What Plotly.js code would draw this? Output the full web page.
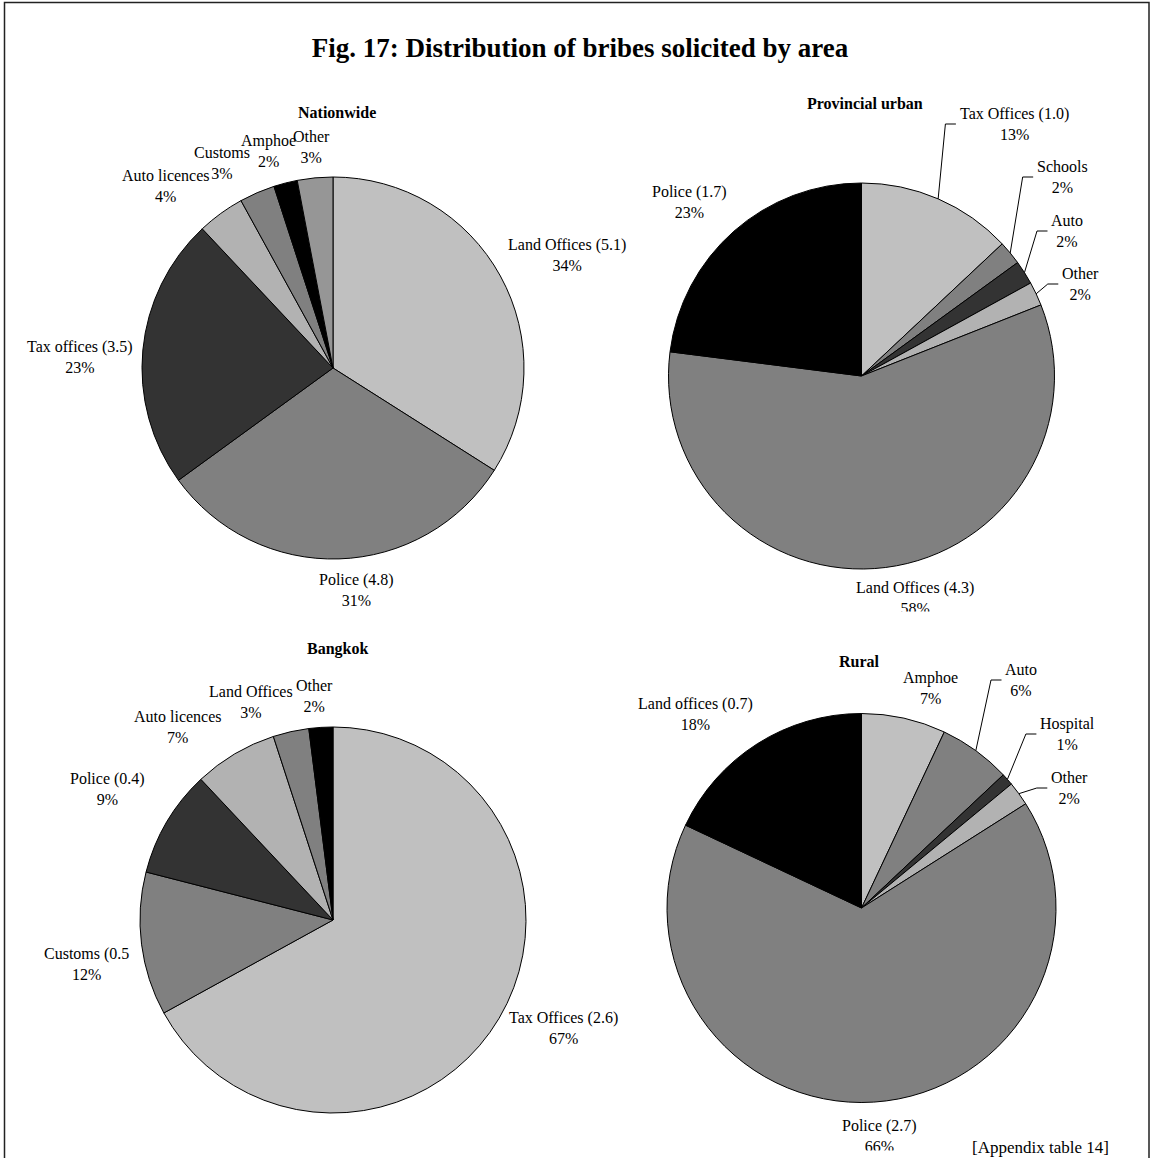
<!DOCTYPE html>
<html><head><meta charset="utf-8">
<script src="https://cdn.plot.ly/plotly-3.0.1.min.js"></script>
<style>html,body{margin:0;padding:0;background:#fff}#chart{width:1151px;height:1158px}</style>
</head><body><div id="chart"></div>
<script>
// ---------------- data ----------------
const chartTitle = 'Fig. 17: Distribution of bribes solicited by area';
const sourceNote = '[Appendix table 14]';
const panelTitles = ['Nationwide', 'Provincial urban', 'Bangkok', 'Rural'];

const nationwideLabels = ['Land Offices (5.1)', 'Police (4.8)', 'Tax offices (3.5)', 'Auto licences', 'Customs', 'Amphoe', 'Other'];
const nationwideValues = [34, 31, 23, 4, 3, 2, 3];

const provincialLabels = ['Tax Offices (1.0)', 'Schools', 'Auto', 'Other', 'Land Offices (4.3)', 'Police (1.7)'];
const provincialValues = [13, 2, 2, 2, 58, 23];

const bangkokLabels = ['Tax Offices (2.6)', 'Customs (0.5', 'Police (0.4)', 'Auto licences', 'Land Offices', 'Other'];
const bangkokValues = [67, 12, 9, 7, 3, 2];

const ruralLabels = ['Amphoe', 'Auto', 'Hospital', 'Other', 'Police (2.7)', 'Land offices (0.7)'];
const ruralValues = [7, 6, 1, 2, 66, 18];

// ---------------- layout / style ----------------
const W = 1151, H = 1158;
const FONT = '"Liberation Serif", "Times New Roman", serif';
const sliceColors = ['#c0c0c0', '#808080', '#333333', '#b2b2b2', '#808080', '#000000', '#969696'];

const panels = [
  { labels: nationwideLabels, values: nationwideValues, cx: 333, cy: 368, r: 191, title: [337, 112],
    labelPos: [[567, 255], [356, 590], [80, 357], [166, 186], [222, 163], [268, 151], [311, 147]],
    leader: [0, 0, 0, 0, 0, 0, 0] },
  { labels: provincialLabels, values: provincialValues, cx: 861.5, cy: 376, r: 193, title: [865, 104],
    labelPos: [[1014, 124], [1062, 177], [1067, 231], [1080, 284], [915, 598], [689, 202]],
    leader: [1, 1, 1, 1, 0, 0] },
  { labels: bangkokLabels, values: bangkokValues, cx: 333, cy: 920, r: 193, title: [337, 649],
    labelPos: [[563, 1028], [86, 964], [107, 789], [178, 727], [251, 702], [314, 696]],
    leader: [0, 0, 0, 0, 0, 0] },
  { labels: ruralLabels, values: ruralValues, cx: 861.5, cy: 908, r: 194.5, title: [860, 661],
    labelPos: [[930, 688], [1021, 680], [1067, 734], [1069, 788], [879, 1136], [695, 714]],
    leader: [0, 1, 1, 1, 0, 0] }
];

const px = x => x / W;
const py = y => 1 - y / H;

const ctx = document.createElement('canvas').getContext('2d');
ctx.font = '16px "Liberation Serif"';

const traces = [];
const annotations = [];
const shapes = [];

panels.forEach((p, k) => {
  const n = p.values.length;
  traces.push({
    type: 'pie',
    labels: p.labels,
    values: p.values,
    sort: false,
    direction: 'clockwise',
    rotation: 0,
    textinfo: 'none',
    hoverinfo: 'skip',
    showlegend: false,
    marker: { colors: sliceColors.slice(0, n), line: { color: '#000000', width: 1 } },
    domain: { x: [px(p.cx - p.r), px(p.cx + p.r)], y: [py(p.cy + p.r), py(p.cy - p.r)] }
  });

  annotations.push({
    xref: 'paper', yref: 'paper', x: px(p.title[0]), y: py(p.title[1]),
    xanchor: 'center', yanchor: 'middle', showarrow: false,
    text: '<b>' + panelTitles[k] + '</b>',
    font: { family: FONT, size: 16, color: '#000' }
  });

  const total = p.values.reduce((a, b) => a + b, 0);
  let cum = 0;
  p.values.forEach((v, i) => {
    const pct = Math.round(v / total * 100) + '%';
    const [lx, ly] = p.labelPos[i];
    annotations.push({
      xref: 'paper', yref: 'paper', x: px(lx), y: py(ly),
      xanchor: 'center', yanchor: 'middle', showarrow: false, align: 'center',
      text: p.labels[i] + '<br>' + pct,
      font: { family: FONT, size: 16, color: '#000' }
    });
    const mid = (cum + v / 2) / total * 2 * Math.PI;
    cum += v;
    if (p.leader[i]) {
      const sx = p.cx + p.r * Math.sin(mid);
      const sy = p.cy - p.r * Math.cos(mid);
      const w = Math.max(ctx.measureText(p.labels[i]).width, ctx.measureText(pct).width);
      const left = lx - w / 2;
      shapes.push({
        type: 'path', xref: 'paper', yref: 'paper',
        path: 'M' + px(sx) + ',' + py(sy) + 'L' + px(left - 14) + ',' + py(ly) + 'L' + px(left - 3.5) + ',' + py(ly),
        line: { color: '#000', width: 1 }
      });
    }
  });
});

// masks reproducing the clipped bottom labels
annotations.push({ xref: 'paper', yref: 'paper', x: px(915), y: py(611), xanchor: 'center', yanchor: 'top',
  showarrow: false, text: ' ', width: 60, height: 14, bgcolor: '#ffffff', borderpad: 0, font: { size: 10 } });
annotations.push({ xref: 'paper', yref: 'paper', x: px(879), y: py(1149.5), xanchor: 'center', yanchor: 'top',
  showarrow: false, text: ' ', width: 60, height: 14, bgcolor: '#ffffff', borderpad: 0, font: { size: 10 } });

annotations.push({
  xref: 'paper', yref: 'paper', x: px(1040), y: py(1147), xanchor: 'center', yanchor: 'middle',
  showarrow: false, text: sourceNote, font: { family: FONT, size: 17, color: '#000' }
});

shapes.push({
  type: 'rect', xref: 'paper', yref: 'paper',
  x0: px(4.5), x1: px(1149), y0: py(1175), y1: py(2.5),
  line: { color: '#222', width: 1.5 }, fillcolor: 'rgba(0,0,0,0)'
});

const layout = {
  width: W, height: H,
  margin: { l: 0, r: 0, t: 0, b: 0 },
  paper_bgcolor: '#ffffff', plot_bgcolor: '#ffffff',
  showlegend: false,
  title: {
    text: '<b>' + chartTitle + '</b>',
    font: { family: FONT, size: 27, color: '#000' },
    x: px(580), xanchor: 'center', xref: 'paper',
    y: py(48), yanchor: 'middle', yref: 'container'
  },
  annotations: annotations,
  shapes: shapes
};

Plotly.newPlot('chart', traces, layout, { staticPlot: true, displayModeBar: false });
</script>
</body></html>
